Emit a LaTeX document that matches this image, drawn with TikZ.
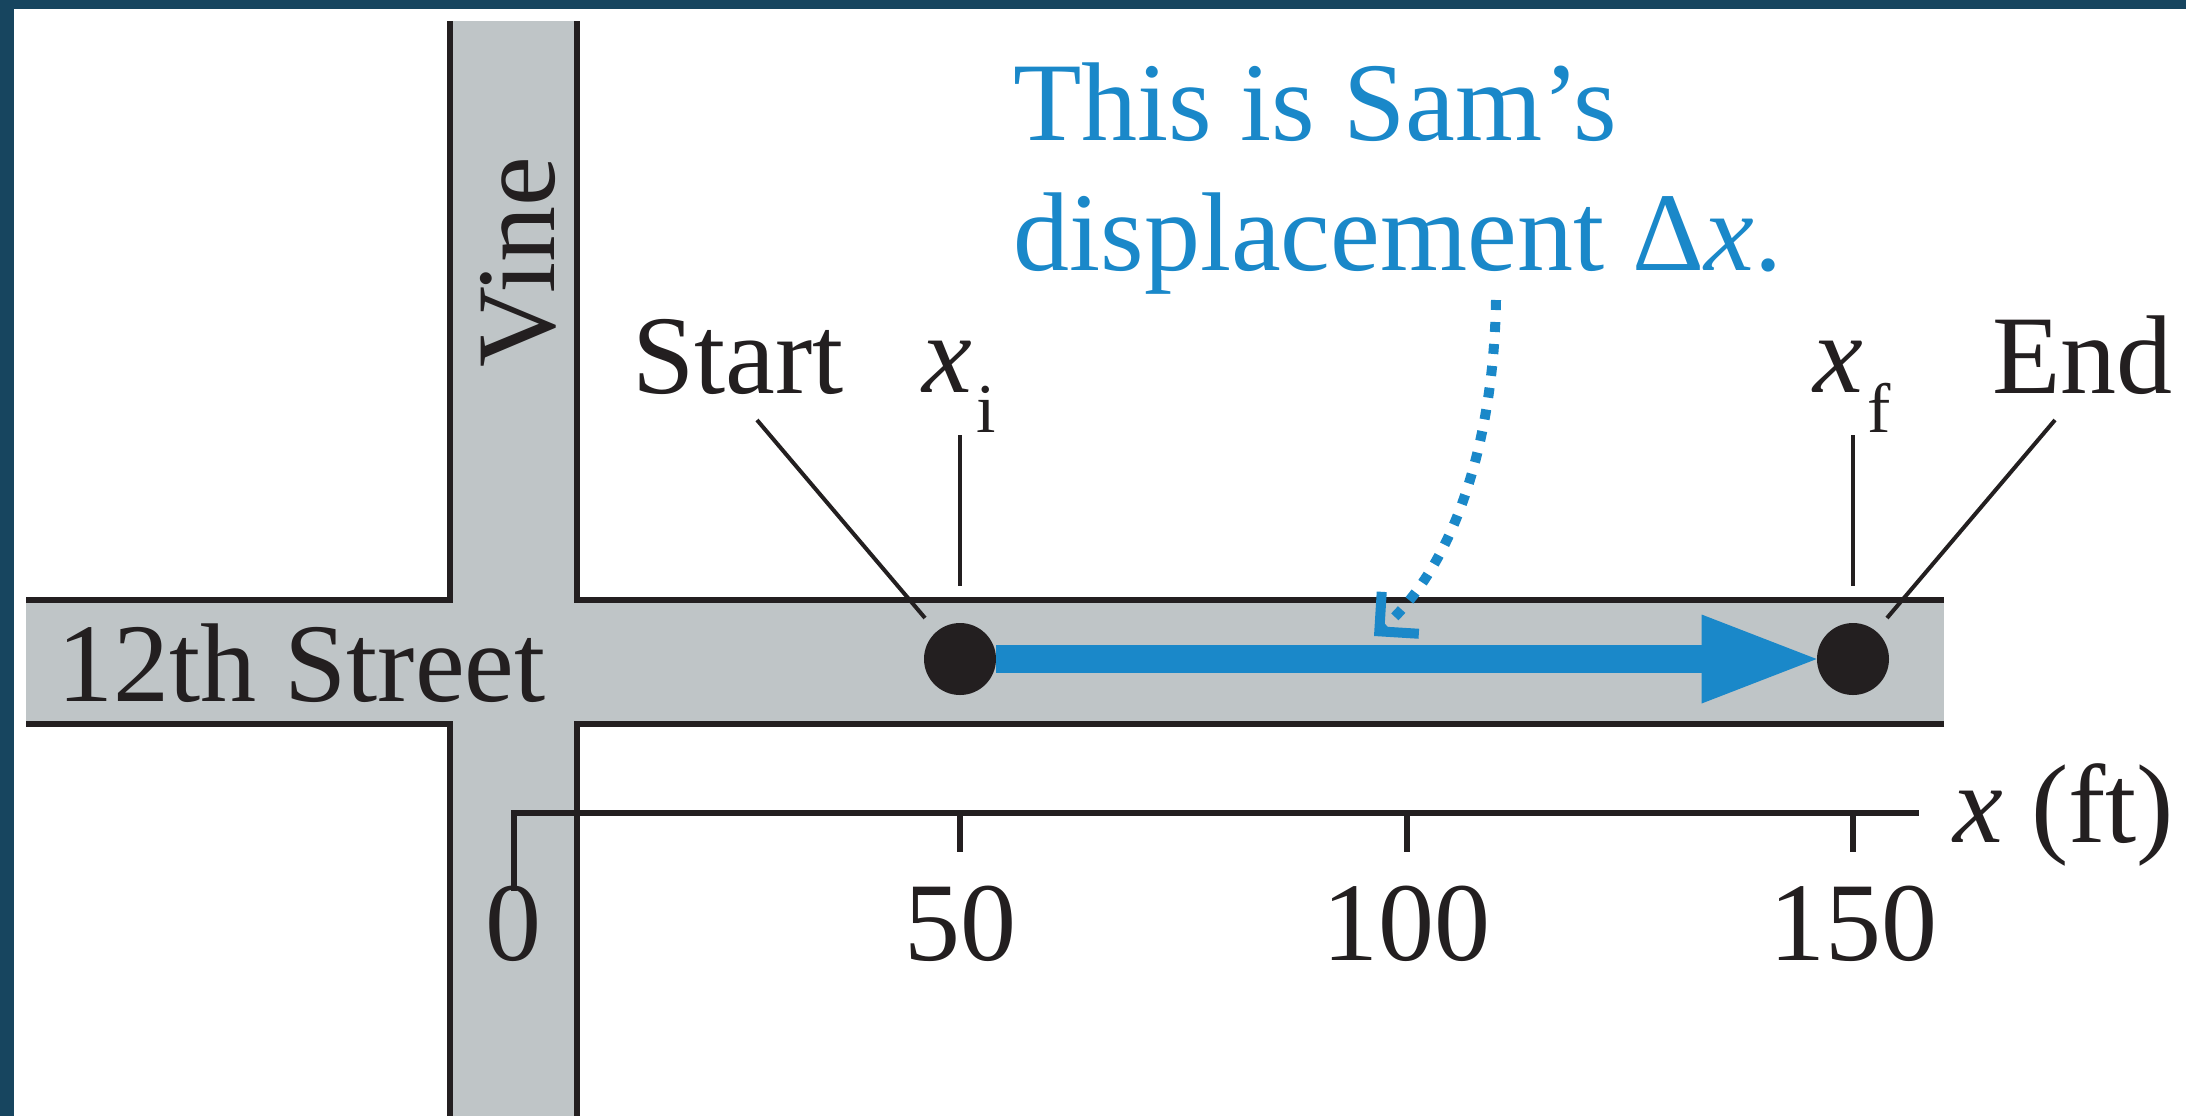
\documentclass[tikz,border=0pt]{standalone}
\usepackage{fontspec}
\setmainfont{Liberation Serif}
\usetikzlibrary{arrows.meta}
\definecolor{framenavy}{HTML}{17455F}
\definecolor{streetgray}{HTML}{BFC5C7}
\definecolor{inkblack}{HTML}{231F20}
\definecolor{dispblue}{HTML}{1A88C9}
\begin{document}
\begin{tikzpicture}[x=0.5pt,y=-0.5pt,
  lbl/.style={inner sep=0pt, anchor=base west, text=inkblack, font=\fontsize{56}{65}\selectfont},
  sublbl/.style={inner sep=0pt, anchor=base west, text=inkblack, font=\fontsize{35}{40}\selectfont},
  numlbl/.style={inner sep=0pt, anchor=base, text=inkblack, font=\fontsize{56}{65}\selectfont},
  bluelbl/.style={inner sep=0pt, anchor=base west, text=dispblue, font=\fontsize{56}{65}\selectfont},
  road/.style={draw=inkblack, line width=3pt, line join=miter},
  axisline/.style={draw=inkblack, line width=3pt, line join=miter},
  leader/.style={draw=inkblack, line width=2pt},
  dotnode/.style={circle, fill=inkblack, inner sep=0pt, minimum size=36pt}]
% frame and page
\fill[framenavy] (0,0) rectangle (2186,1116);
\fill[white] (14,9) rectangle (2186,1116);
\useasboundingbox (0,0) rectangle (2186,1116);
% streets
\fill[streetgray] (450,21) rectangle (577,1116);
\fill[streetgray] (26,600) rectangle (1944,724);
\draw[road] (450,21) -- (450,600) -- (26,600);
\draw[road] (577,21) -- (577,600) -- (1944,600);
\draw[road] (26,724) -- (450,724) -- (450,1116);
\draw[road] (1944,724) -- (577,724) -- (577,1116);
% street names
\node[lbl, rotate=90, anchor=center] (vine) at (518,262) {Vine};
\node[lbl] (street) at (57,701) {12th Street};
% axis
\coordinate (tick0) at (513.5,813);
\coordinate (tick50) at (960,813);
\coordinate (tick100) at (1406.5,813);
\coordinate (tick150) at (1853,813);
\coordinate (axisend) at (1919,813);
\draw[axisline] ([yshift=-39]tick0) -- (tick0) -- (axisend);
\draw[axisline] (tick50) -- ++(0,39);
\draw[axisline] (tick100) -- ++(0,39);
\draw[axisline] (tick150) -- ++(0,39);
\node[numlbl] (n0) at (513.5,960) {0};
\node[numlbl] (n50) at (960,960) {50};
\node[numlbl] (n100) at (1406.5,960) {100};
\node[numlbl] (n150) at (1853,960) {150};
\node[lbl] (xaxis) at (1953,842) {\textit{x} (ft)};
% positions
\node[dotnode] (startdot) at (960,659) {};
\node[dotnode] (enddot) at (1853,659) {};
\draw[dispblue, line width=14pt, -{Triangle[length=57.5pt, width=44.5pt, line width=0pt]}] (startdot.east) -- (enddot.west);
% labels above
\node[lbl] (start) at (632,393) {Start};
\node[lbl] (xi) at (922,392) {\textit{x}};
\node[sublbl] (xisub) at (976,432) {i};
\node[lbl] (xf) at (1813,392) {\textit{x}};
\node[sublbl] (xfsub) at (1867,432) {f};
\node[lbl] (endlbl) at (1992,393) {End};
\coordinate (xitop) at (960,435);
\coordinate (xibot) at (960,586);
\coordinate (xftop) at (1853,435);
\coordinate (xfbot) at (1853,586);
\draw[leader] (xitop) -- (xibot);
\draw[leader] (xftop) -- (xfbot);
\coordinate (startleadtop) at (757,420);
\coordinate (startleadbot) at (925,618);
\coordinate (endleadtop) at (2055,420);
\coordinate (endleadbot) at (1887,618);
\draw[leader] (startleadtop) -- (startleadbot);
\draw[leader] (endleadtop) -- (endleadbot);
% annotation
\node[bluelbl] (title1) at (1013,140) {This is Sam’s};
\node[bluelbl] (title2) at (1013,270) {displacement Δ\textit{x}.};
\coordinate (dotstart) at (1496,300);
\coordinate (dotend) at (1374,636);
\draw[dispblue, line width=5pt, dash pattern=on 5pt off 6pt,
  -{Straight Barb[sharp, length=14pt, width=28pt]}]
  (dotstart) .. controls (1494,430) and (1460,560) .. (dotend);
\end{tikzpicture}
\end{document}
